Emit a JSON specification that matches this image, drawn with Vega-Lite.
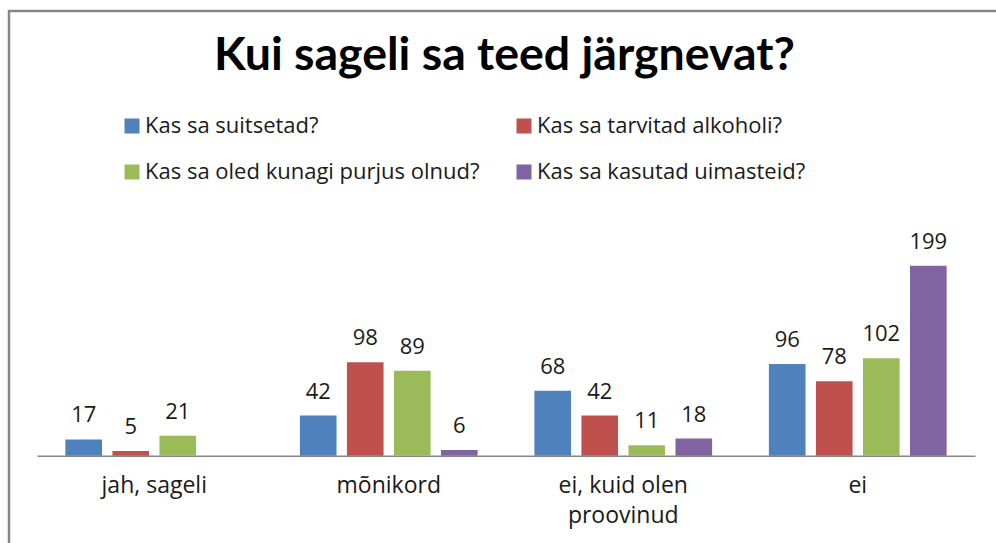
{
  "$schema": "https://vega.github.io/schema/vega-lite/v6.json",
  "width": 991,
  "height": 536,
  "autosize": {"type": "none"},
  "padding": {"left": 9, "top": 11, "right": -4, "bottom": -4},
  "background": "white",
  "config": {"view": {"stroke": "#868686", "strokeWidth": 2.5}, "font": "Open Sans"},
  "title": {
    "text": "Kui sageli sa teed järgnevat?",
    "font": "Lato",
    "fontSize": 46.5,
    "fontWeight": "bold",
    "color": "#000000",
    "anchor": "middle",
    "frame": "group",
    "baseline": "alphabetic",
    "offset": -62,
    "dy": 43
  },
  "data": {
    "values": [
      {"kategooria": "jah, sageli", "kysimus": "Kas sa suitsetad?", "vastused": 17},
      {"kategooria": "jah, sageli", "kysimus": "Kas sa tarvitad alkoholi?", "vastused": 5},
      {"kategooria": "jah, sageli", "kysimus": "Kas sa oled kunagi purjus olnud?", "vastused": 21},
      {"kategooria": "mõnikord", "kysimus": "Kas sa suitsetad?", "vastused": 42},
      {"kategooria": "mõnikord", "kysimus": "Kas sa tarvitad alkoholi?", "vastused": 98},
      {"kategooria": "mõnikord", "kysimus": "Kas sa oled kunagi purjus olnud?", "vastused": 89},
      {"kategooria": "mõnikord", "kysimus": "Kas sa kasutad uimasteid?", "vastused": 6},
      {"kategooria": "ei, kuid olen proovinud", "kysimus": "Kas sa suitsetad?", "vastused": 68},
      {"kategooria": "ei, kuid olen proovinud", "kysimus": "Kas sa tarvitad alkoholi?", "vastused": 42},
      {"kategooria": "ei, kuid olen proovinud", "kysimus": "Kas sa oled kunagi purjus olnud?", "vastused": 11},
      {"kategooria": "ei, kuid olen proovinud", "kysimus": "Kas sa kasutad uimasteid?", "vastused": 18},
      {"kategooria": "ei", "kysimus": "Kas sa suitsetad?", "vastused": 96},
      {"kategooria": "ei", "kysimus": "Kas sa tarvitad alkoholi?", "vastused": 78},
      {"kategooria": "ei", "kysimus": "Kas sa oled kunagi purjus olnud?", "vastused": 102},
      {"kategooria": "ei", "kysimus": "Kas sa kasutad uimasteid?", "vastused": 199}
    ]
  },
  "encoding": {
    "x": {
      "field": "kategooria",
      "type": "nominal",
      "sort": ["jah, sageli", "mõnikord", "ei, kuid olen proovinud", "ei"],
      "scale": {"range": [28, 966], "paddingInner": 0.198, "paddingOuter": 0.099},
      "axis": {
        "title": null,
        "ticks": false,
        "domainColor": "#868686",
        "domainWidth": 1.5,
        "labelFont": "Open Sans",
        "labelFontSize": 23,
        "labelColor": "#1a1a1a",
        "labelPadding": 19,
        "labelAngle": 0,
        "labelLineHeight": 30,
        "offset": -91.3,
        "labelExpr": "datum.label == 'ei, kuid olen proovinud' ? ['ei, kuid olen', 'proovinud'] : datum.label"
      }
    },
    "xOffset": {
      "field": "kysimus",
      "type": "nominal",
      "sort": ["Kas sa suitsetad?", "Kas sa tarvitad alkoholi?", "Kas sa oled kunagi purjus olnud?", "Kas sa kasutad uimasteid?"],
      "scale": {"paddingInner": 0.221, "paddingOuter": 0.11}
    },
    "y": {
      "field": "vastused",
      "type": "quantitative",
      "scale": {"domain": [0, 250], "range": [444.7, 206]},
      "axis": null
    }
  },
  "layer": [
    {
      "mark": {"type": "bar"},
      "encoding": {
        "color": {
          "field": "kysimus",
          "type": "nominal",
          "scale": {
            "domain": ["Kas sa suitsetad?", "Kas sa tarvitad alkoholi?", "Kas sa oled kunagi purjus olnud?", "Kas sa kasutad uimasteid?"],
            "range": ["#4F81BD", "#C0504D", "#9BBB59", "#8064A2"]
          },
          "legend": {
            "orient": "none",
            "legendX": 112,
            "legendY": 104,
            "columns": 2,
            "direction": "horizontal",
            "title": null,
            "padding": 0,
            "symbolType": "square",
            "symbolSize": 225,
            "symbolStrokeWidth": 0,
            "labelFont": "Open Sans",
            "labelFontSize": 22,
            "labelColor": "#1a1a1a",
            "labelOffset": 2,
            "labelLimit": 500,
            "rowPadding": 24,
            "columnPadding": 33
          }
        }
      }
    },
    {
      "mark": {"type": "text", "dy": -17, "baseline": "alphabetic", "fontSize": 22, "font": "Open Sans", "color": "#1a1a1a"},
      "encoding": {
        "text": {"field": "vastused", "type": "quantitative"}
      }
    }
  ]
}
